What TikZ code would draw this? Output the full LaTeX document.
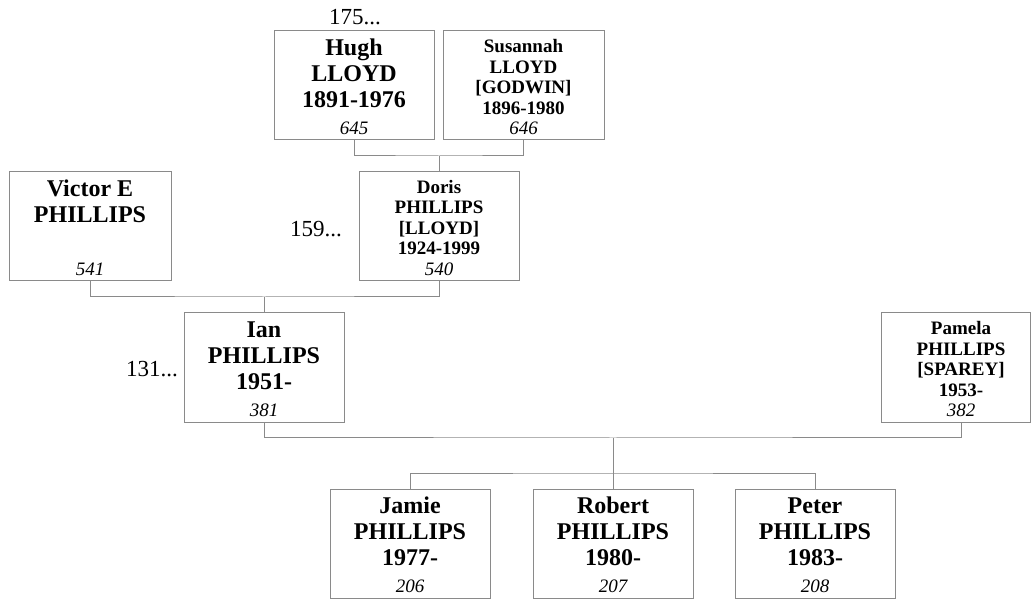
\documentclass[tikz,border=0pt]{standalone}
\usepackage{fontspec}
\setmainfont{Liberation Serif}
\usetikzlibrary{calc}
\definecolor{linegray}{HTML}{8A8A8A}
\newcommand\numit[1]{\mdseries\itshape #1}
\newcommand\topfix{\rule{0pt}{0.75em}}
\tikzset{
  pbox/.style={draw=linegray, line width=1pt, inner sep=0pt, minimum height=109pt},
  bigtxt/.style={anchor=north, inner sep=0pt, align=center, font=\fontsize{24}{26.3}\selectfont\bfseries},
  smalltxt/.style={anchor=north, inner sep=0pt, align=center, font=\fontsize{19}{20.5}\selectfont\bfseries},
  conn/.style={draw=linegray, line width=1pt},
  more/.style={inner sep=0pt, font=\fontsize{23}{26}\selectfont}
}
\begin{document}
\begin{tikzpicture}[x=1pt,y=-1pt]
\useasboundingbox (0,0) rectangle (1031,601);
% boxes
\node[pbox, minimum width=160pt] (hugh) at (354,85.5) {};
\node[pbox, minimum width=161pt] (susannah) at (523.5,85.5) {};
\node[pbox, minimum width=162pt] (victor) at (90,226.5) {};
\node[pbox, minimum width=160pt] (doris) at (439,226.5) {};
\node[pbox, minimum width=160pt, minimum height=110pt] (ian) at (264,368) {};
\node[pbox, minimum width=149pt, minimum height=110pt] (pamela) at (955.5,368) {};
\node[pbox, minimum width=160pt] (jamie) at (410,543.5) {};
\node[pbox, minimum width=160pt] (robert) at (613,543.5) {};
\node[pbox, minimum width=160pt] (peter) at (815,543.5) {};
% texts
\node[bigtxt] (thugh) at (354,37) {\topfix Hugh\\LLOYD\\1891-1976\\\fontsize{19}{26.3}\selectfont\numit{645}};
\node[smalltxt] (tsus) at (523.5,38.5) {\topfix Susannah\\LLOYD\\\relax[GODWIN]\\1896-1980\\\numit{646}};
\node[bigtxt] (tvic) at (90,178) {\topfix Victor E\\PHILLIPS\\\mbox{}\\\fontsize{19}{26.3}\selectfont\numit{541}};
\node[smalltxt] (tdor) at (439,179) {\topfix Doris\\PHILLIPS\\\relax[LLOYD]\\1924-1999\\\numit{540}};
\node[bigtxt] (tian) at (264,319) {\topfix Ian\\PHILLIPS\\1951-\\\fontsize{19}{26.3}\selectfont\numit{381}};
\node[smalltxt] (tpam) at (961,320.5) {\topfix Pamela\\PHILLIPS\\\relax[SPAREY]\\1953-\\\numit{382}};
\node[bigtxt] (tjam) at (410,495) {\topfix Jamie\\PHILLIPS\\1977-\\\fontsize{19}{26.3}\selectfont\numit{206}};
\node[bigtxt] (trob) at (613,495) {\topfix Robert\\PHILLIPS\\1980-\\\fontsize{19}{26.3}\selectfont\numit{207}};
\node[bigtxt] (tpet) at (815,495) {\topfix Peter\\PHILLIPS\\1983-\\\fontsize{19}{26.3}\selectfont\numit{208}};
% more markers
\node[more, anchor=base] (m175) at (355,25) {175...};
\node[more, anchor=base east] (m159) at (342,237) {159...};
\node[more, anchor=base east] (m131) at (178,377) {131...};
% connectors
\coordinate (b1) at (439,156);
\draw[conn] (hugh.south) |- (b1) -| (susannah.south);
\draw[conn] (b1) -- (doris.north);
\coordinate (b2) at (264,297);
\draw[conn] (victor.south) |- (b2) -| (doris.south);
\draw[conn] (b2) -- (ian.north);
\coordinate (pamc) at (961,423);
\coordinate (b3) at (613,438);
\draw[conn] (ian.south) |- (b3) -| (pamc);
\coordinate (b4) at (613,473);
\draw[conn] (b3) -- (b4);
\draw[conn] (jamie.north) |- (b4) -| (peter.north);
\draw[conn] (b4) -- (robert.north);
\end{tikzpicture}
\end{document}
